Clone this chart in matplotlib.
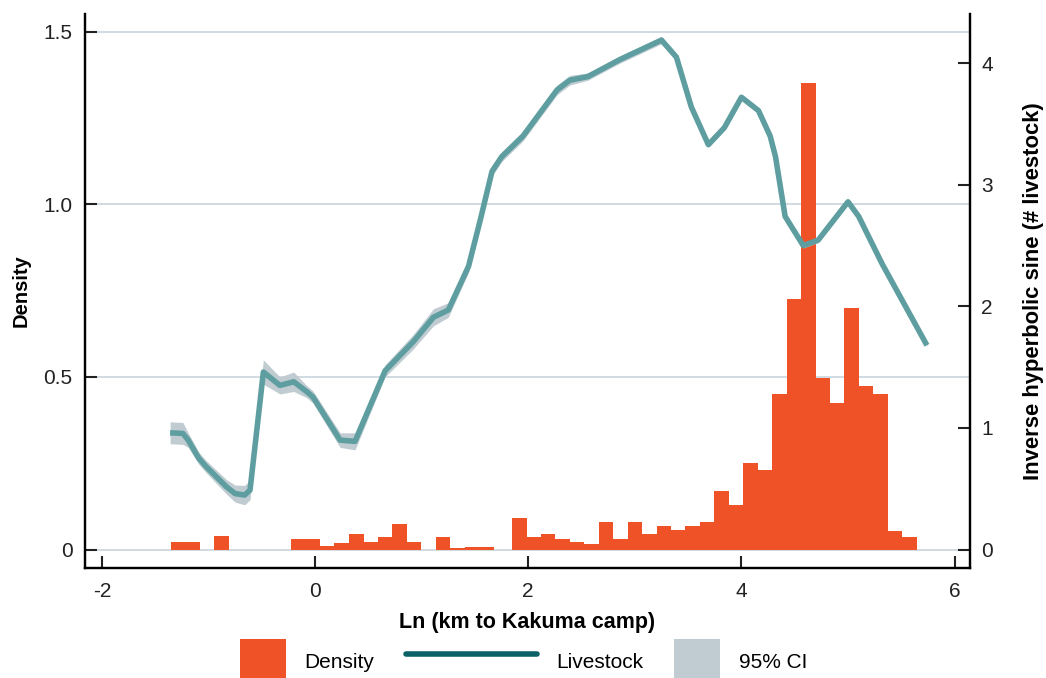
import matplotlib.pyplot as plt
from matplotlib.patches import Patch
from matplotlib.lines import Line2D

plt.rcParams['font.family'] = ['Liberation Sans', 'DejaVu Sans']
plt.rcParams['axes.unicode_minus'] = False

# Histogram of settlement distance: bin centres (ln km) and density
bin_centers = [-1.283, -1.147, -0.877, -0.157, -0.021, 0.114, 0.250, 0.386,
               0.521, 0.657, 0.792, 0.928, 1.199, 1.335, 1.471, 1.606,
               1.916, 2.052, 2.187, 2.323, 2.458, 2.594, 2.730, 2.865,
               3.001, 3.136, 3.272, 3.408, 3.543, 3.679, 3.814, 3.950,
               4.086, 4.221, 4.357, 4.492, 4.628, 4.764, 4.899, 5.035,
               5.170, 5.306, 5.442, 5.577]
density = [0.022, 0.022, 0.040, 0.030, 0.030, 0.010, 0.019, 0.045,
           0.022, 0.036, 0.074, 0.022, 0.036, 0.004, 0.007, 0.007,
           0.091, 0.036, 0.045, 0.030, 0.022, 0.016, 0.080, 0.030,
           0.080, 0.045, 0.068, 0.057, 0.068, 0.080, 0.170, 0.129,
           0.251, 0.230, 0.451, 0.726, 1.352, 0.497, 0.425, 0.700,
           0.474, 0.451, 0.055, 0.036]
bin_width = 0.137

# Livestock (inverse hyperbolic sine) smooth and half width of its 95% CI
ls_x = [-1.36, -1.24, -1.19, -1.09, -1.02, -0.83, -0.75, -0.66, -0.61,
        -0.485, -0.33, -0.20, -0.08, -0.02, 0.235, 0.375, 0.657, 0.922,
        1.11, 1.25, 1.44, 1.55, 1.66, 1.75, 1.95, 2.27, 2.39, 2.56, 2.86,
        3.25, 3.39, 3.53, 3.69, 3.84, 4.00, 4.16, 4.27, 4.32, 4.41, 4.58,
        4.72, 5.00, 5.10, 5.32, 5.74]
ls_y = [0.96, 0.955, 0.90, 0.75, 0.68, 0.515, 0.46, 0.448, 0.49,
        1.46, 1.35, 1.38, 1.30, 1.255, 0.90, 0.89, 1.47, 1.71,
        1.91, 1.97, 2.33, 2.71, 3.11, 3.23, 3.40, 3.78, 3.86, 3.89, 4.03,
        4.19, 4.05, 3.64, 3.33, 3.47, 3.72, 3.61, 3.40, 3.23, 2.74, 2.50,
        2.545, 2.86, 2.74, 2.35, 1.68]
ls_ci = [0.09, 0.09, 0.06, 0.05, 0.05, 0.06, 0.07, 0.08, 0.08,
         0.10, 0.07, 0.08, 0.05, 0.05, 0.06, 0.07, 0.05, 0.06,
         0.07, 0.06, 0.05, 0.04, 0.04, 0.04, 0.04, 0.04, 0.04, 0.03, 0.03,
         0.03, 0.03, 0.02, 0.02, 0.02, 0.02, 0.02, 0.02, 0.02, 0.02, 0.02,
         0.02, 0.02, 0.02, 0.02, 0.01]
ci_lo = [y - h for y, h in zip(ls_y, ls_ci)]
ci_hi = [y + h for y, h in zip(ls_y, ls_ci)]

bar_color = '#ef5226'
line_color = '#5f9ea0'
legend_line_color = '#0b6266'
ci_color = '#c0ccd2'
grid_color = '#c9d4db'

fig = plt.figure(figsize=(10.46, 6.78), dpi=100)
ax = fig.add_axes([0.0813, 0.1622, 0.846, 0.8172])
ax2 = ax.twinx()

# no antialiasing on the bars so neighbouring bins join without a seam
ax.bar(bin_centers, density, width=bin_width, color=bar_color, linewidth=0,
       antialiased=False, zorder=2)
ax.set_xlim(-2.158, 6.144)
ax.set_ylim(-0.0536, 1.552)
ax.set_xticks([-2, 0, 2, 4, 6])
ax.set_yticks([0, 0.5, 1.0, 1.5])
ax.set_yticklabels(['0', '0.5', '1.0', '1.5'])
ax.grid(axis='y', color=grid_color, linewidth=1.2)
ax.set_axisbelow(True)

ax2.fill_between(ls_x, ci_lo, ci_hi, color=ci_color, linewidth=0)
ax2.plot(ls_x, ls_y, color=line_color, linewidth=4, solid_joinstyle='round',
         solid_capstyle='butt')
ax2.set_ylim(-0.152, 4.405)
ax2.set_yticks([0, 1, 2, 3, 4])

for a in (ax, ax2):
    a.spines['top'].set_visible(False)
    for side in ('left', 'right', 'bottom'):
        a.spines[side].set_linewidth(1.6)
ax.tick_params(axis='y', direction='in', length=8.5, width=1.5, labelsize=15,
               pad=9, colors='#222222')
ax.tick_params(axis='x', direction='in', length=8.5, width=1.5, labelsize=15,
               pad=10, colors='#222222')
ax2.tick_params(axis='y', direction='in', length=8.5, width=1.5, labelsize=15,
                pad=8, colors='#222222')

ax.set_xlabel('Ln (km to Kakuma camp)', fontsize=15.5, fontweight='bold', labelpad=8)
ax.set_ylabel('Density', fontsize=14.5, fontweight='bold', labelpad=9)
ax2.set_ylabel('Inverse hyperbolic sine (# livestock)', fontsize=15.8,
               fontweight='bold', labelpad=22)

# Legend entries placed one by one so each handle keeps its own length
entries = [
    (Patch(facecolor=bar_color), 'Density', 2.2, 0.2294),
    (Line2D([0], [0], color=legend_line_color, linewidth=4,
            solid_capstyle='round'), 'Livestock', 6.3, 0.3881),
    (Patch(facecolor=ci_color), '95% CI', 2.2, 0.6444),
]
for handle, label, hlen, xpos in entries:
    fig.legend([handle], [label], loc='center left', bbox_to_anchor=(xpos, 0.0236),
               frameon=False, fontsize=15, handlelength=hlen, handleheight=3.0,
               handletextpad=0.9, borderpad=0, borderaxespad=0)

fig.savefig('out.png', dpi=100)
